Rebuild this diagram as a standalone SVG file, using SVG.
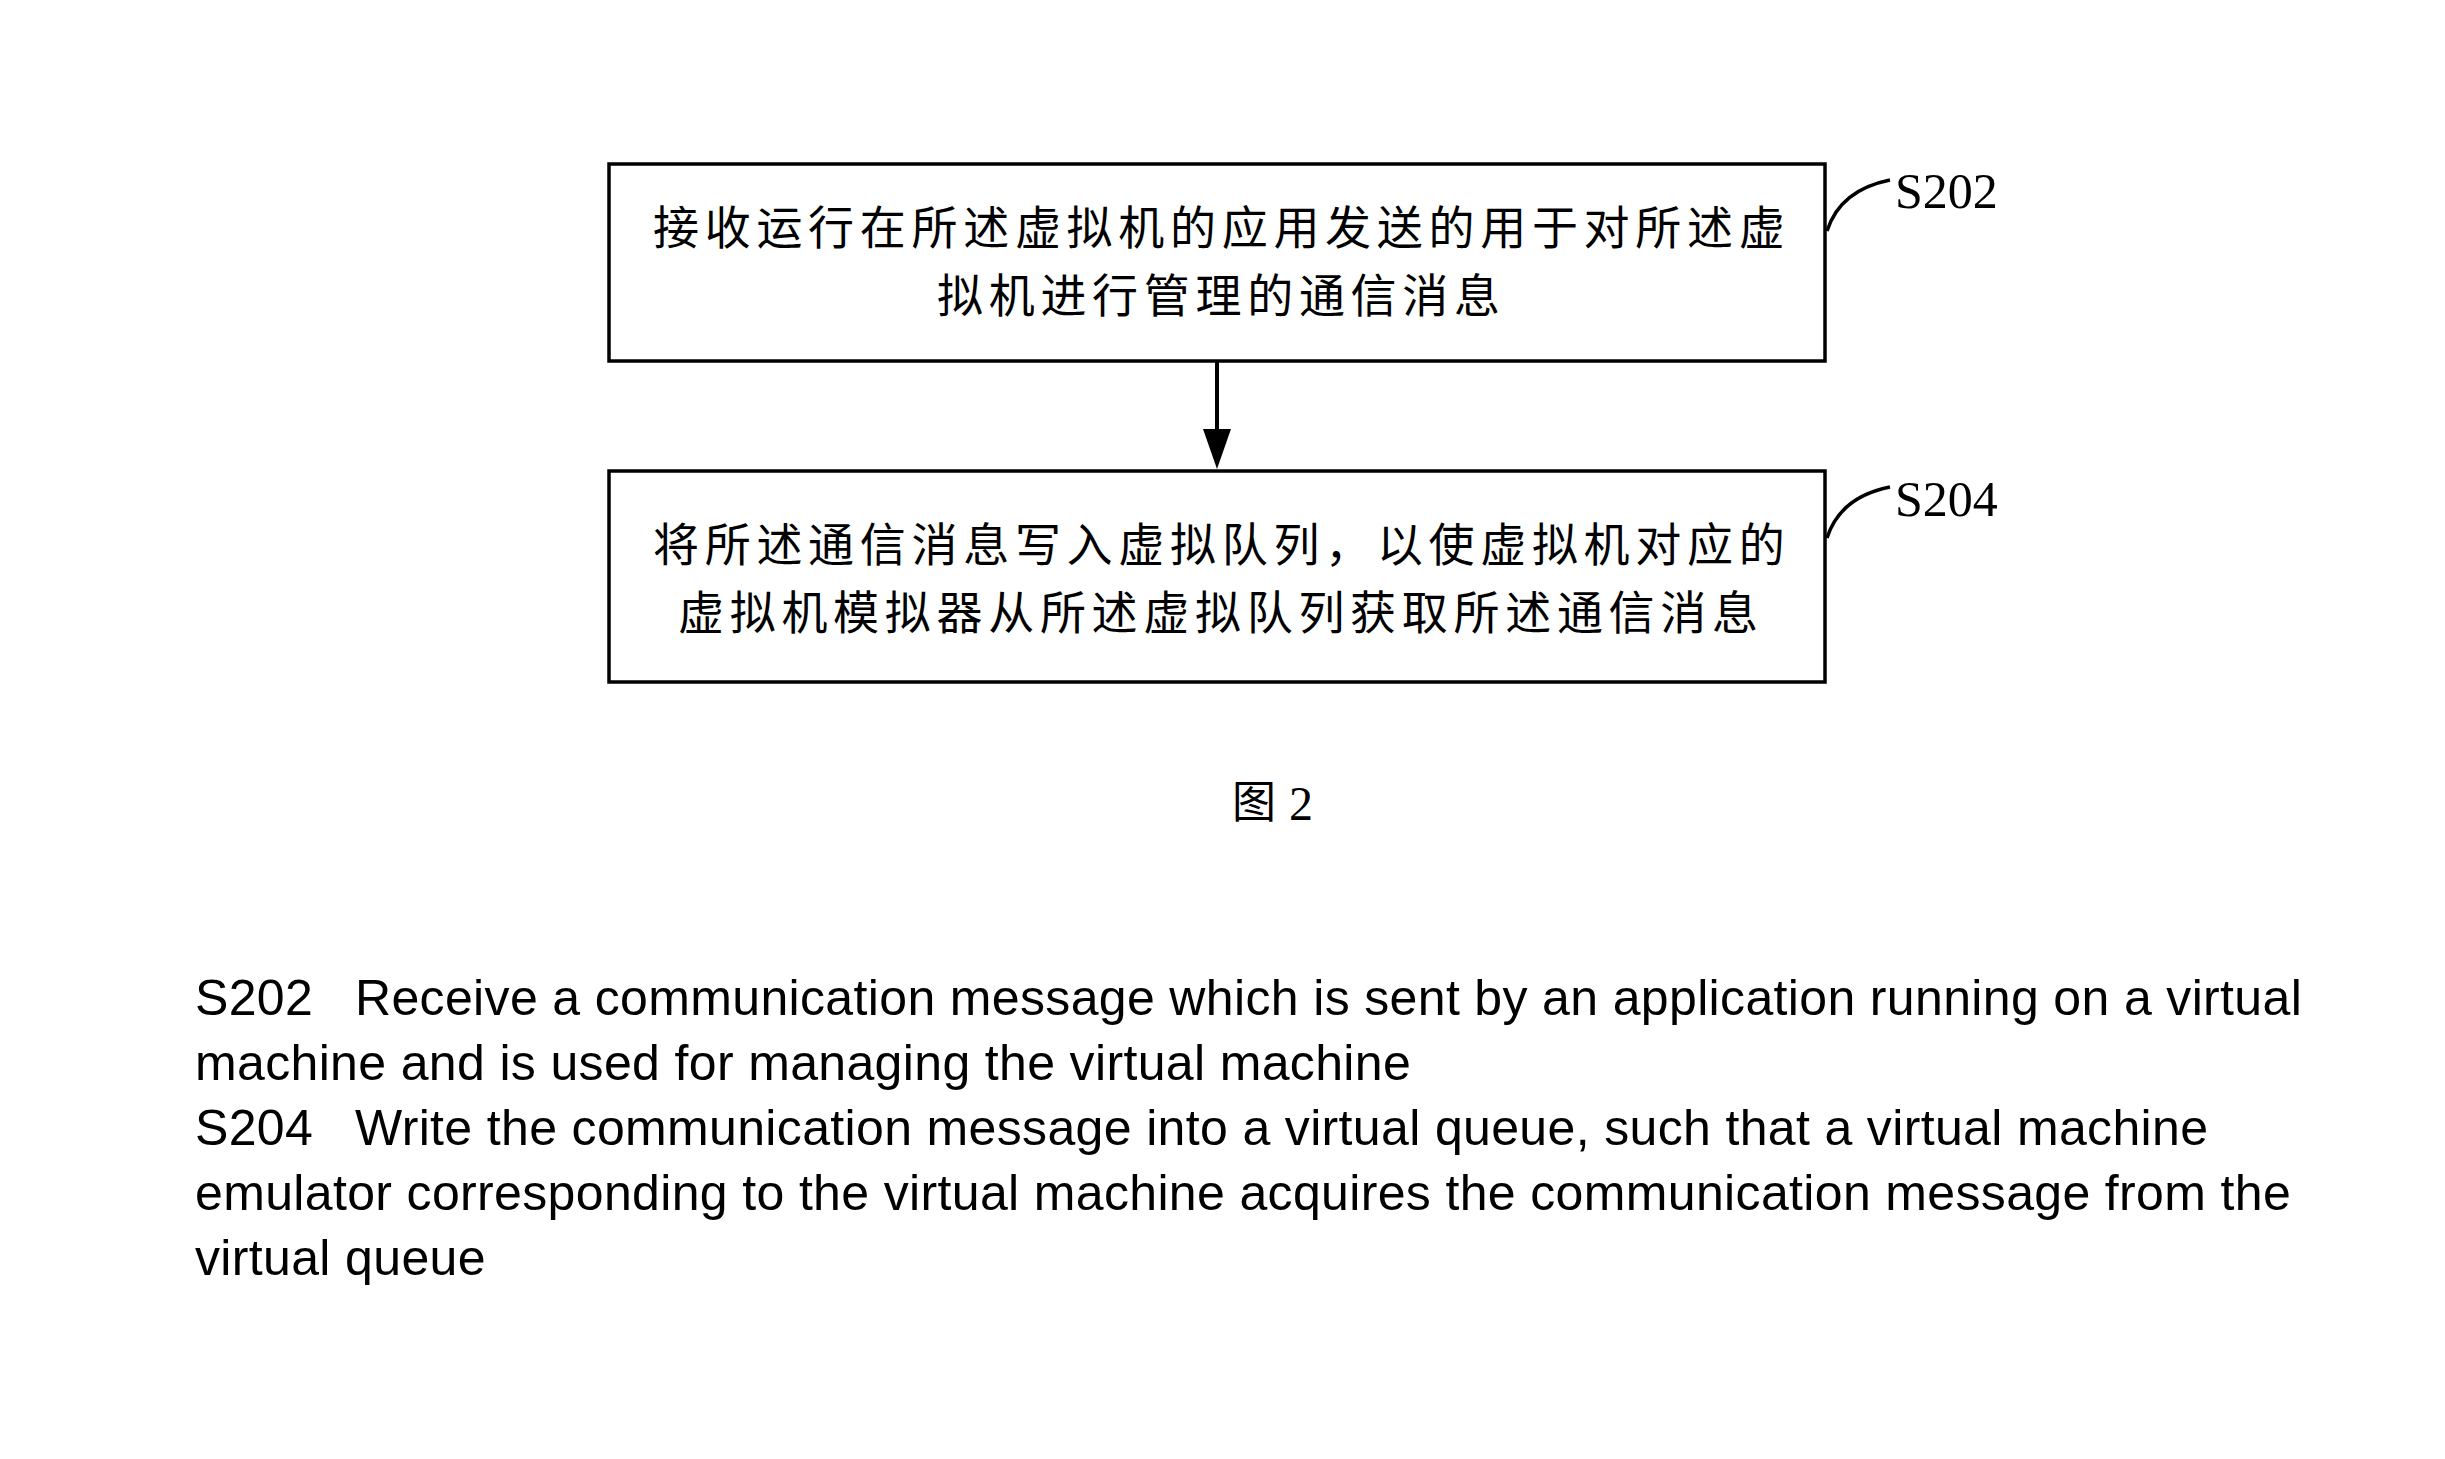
<svg xmlns="http://www.w3.org/2000/svg" width="2445" height="1459" viewBox="0 0 2445 1459">
<style>
.box{fill:#fff;stroke:#000;stroke-width:3.5}
.cn{font-family:"Noto Sans CJK SC","Noto Sans CJK JP",sans-serif;font-size:46px;letter-spacing:5.7px;fill:#000}
.lbl{font-family:"Liberation Serif","Times New Roman",serif;font-size:50px;fill:#000}
.lead{fill:none;stroke:#000;stroke-width:3.5}
.en{font-family:"Liberation Sans",Arial,sans-serif;font-size:50px;letter-spacing:0.35px;fill:#000}
.cap{font-family:"Noto Sans CJK SC",sans-serif;font-size:44px;fill:#000}
.capn{font-family:"Liberation Serif",serif;font-size:48px;fill:#000}
</style>
<rect width="2445" height="1459" fill="#fff"/>
<g id="S202">
<rect class="box" x="609" y="164" width="1216" height="197"/>
<text class="cn" x="653" y="244">接收运行在所述虚拟机的应用发送的用于对所述虚</text>
<text class="cn" x="937" y="312">拟机进行管理的通信消息</text>
</g>
<g id="S204">
<rect class="box" x="609" y="471" width="1216" height="211"/>
<text class="cn" x="653" y="561">将所述通信消息写入虚拟队列，以使虚拟机对应的</text>
<text class="cn" x="678" y="629">虚拟机模拟器从所述虚拟队列获取所述通信消息</text>
</g>
<g id="label-S202">
<path class="lead" d="M1827,231 Q1840,190 1890,180"/>
<text class="lbl" x="1895" y="208">S202</text>
</g>
<g id="label-S204">
<path class="lead" d="M1827,538 Q1840,497 1890,487"/>
<text class="lbl" x="1895" y="516">S204</text>
</g>
<g id="connectors">
<line x1="1217" y1="361" x2="1217" y2="432" stroke="#000" stroke-width="4"/>
<path d="M1203,429 L1231,429 L1217,469 Z" fill="#000"/>
</g>
<g id="caption">
<text class="cap" x="1232" y="818">图</text>
<text class="capn" x="1289" y="820">2</text>
</g>
<g id="legend">
<text class="en" x="195" y="1015">S202</text>
<text class="en" x="355" y="1015">Receive a communication message which is sent by an application running on a virtual</text>
<text class="en" x="195" y="1080">machine and is used for managing the virtual machine</text>
<text class="en" x="195" y="1145">S204</text>
<text class="en" x="355" y="1145">Write the communication message into a virtual queue, such that a virtual machine</text>
<text class="en" x="195" y="1210">emulator corresponding to the virtual machine acquires the communication message from the</text>
<text class="en" x="195" y="1275">virtual queue</text>
</g>
</svg>
